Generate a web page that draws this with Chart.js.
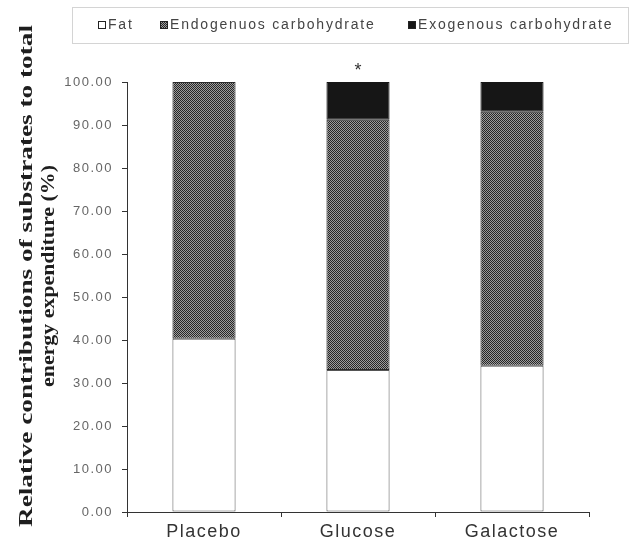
<!DOCTYPE html>
<html>
<head>
<meta charset="utf-8">
<style>
  html, body { margin: 0; padding: 0; background: #fff; }
  #wrap { width: 632px; height: 552px; }
</style>
<script src="https://cdn.jsdelivr.net/npm/chart.js@4.4.1/dist/chart.umd.min.js"></script>
</head>
<body>
<div id="wrap"><canvas id="chart"></canvas></div>
<script>
// substrate contributions (%) per drink
const groups = ['Placebo', 'Glucose', 'Galactose'];
const fat = [40.3, 33.0, 34.0];
const endogenous = [59.7, 58.2, 59.1];
const exogenous = [0, 8.8, 6.9];
const sigMarks = ['', '*', ''];
const seriesNames = ['Fat', 'Endogenuos carbohydrate', 'Exogenous carbohydrate'];
const yTitle = ['Relative contributions of substrates to total', 'energy expenditure (%)'];

const canvas = document.getElementById('chart');
const ctx = canvas.getContext('2d');

// fine dotted fill for the endogenous segment
function dotPattern() {
    const p = document.createElement('canvas');
    p.width = 2; p.height = 2;
    const g = p.getContext('2d');
    g.fillStyle = '#9c9c9c';
    g.fillRect(0, 0, 2, 2);
    g.fillStyle = '#262626';
    g.fillRect(0, 0, 1, 1);
    g.fillRect(1, 1, 1, 1);
    return ctx.createPattern(p, 'repeat');
}
const dots = dotPattern();

const fills = ['#ffffff', dots, '#161616'];
const edges = ['#555555', '#2a2a2a', '#161616'];

// wider letter spacing for axis tick text
const textSpacing = {
    id: 'textSpacing',
    beforeDraw(chart) { chart.ctx.letterSpacing = '1.5px'; }
};

const extras = {
    id: 'extras',
    afterDraw(chart) {
        const c = chart.ctx;
        const xs = chart.scales.x, ys = chart.scales.y;

        // significance mark above bars
        c.save();
        c.fillStyle = '#333';
        c.font = '18px Arial';
        c.letterSpacing = '0px';
        c.textAlign = 'center';
        c.textBaseline = 'middle';
        groups.forEach((g, i) => {
            if (!sigMarks[i]) return;
            const total = fat[i] + endogenous[i] + exogenous[i];
            c.fillText(sigMarks[i], xs.getPixelForValue(i), ys.getPixelForValue(total) - 11);
        });
        c.restore();

        // legend in a framed box
        c.save();
        c.strokeStyle = '#d4d4d4';
        c.lineWidth = 1;
        c.strokeRect(72.5, 7.5, 556, 36);
        c.font = '14px Arial';
        c.letterSpacing = '1.8px';
        c.textBaseline = 'middle';
        const itemX = [98, 160, 408];
        chart.data.datasets.forEach((ds, i) => {
            c.fillStyle = ds.backgroundColor;
            c.fillRect(itemX[i], 21, 8, 8);
            c.strokeStyle = '#222';
            c.strokeRect(itemX[i] + 0.5, 21.5, 7, 7);
            c.fillStyle = '#444';
            c.fillText(ds.label, itemX[i] + 10, 25.5);
        });
        c.restore();

        // rotated y title, two lines
        c.save();
        c.fillStyle = '#1e1e1e';
        c.font = 'bold 18px "Liberation Serif", "Times New Roman", serif';
        c.letterSpacing = '0px';
        c.textAlign = 'center';
        c.textBaseline = 'middle';
        const lineX = [27, 49];
        const lineLen = [502, 222];
        yTitle.forEach((t, i) => {
            const w = c.measureText(t).width;
            c.save();
            c.translate(lineX[i], 276);
            c.rotate(-Math.PI / 2);
            c.scale(lineLen[i] / w, 1);
            c.fillText(t, 0, 0);
            c.restore();
        });
        c.restore();
    }
};

new Chart(ctx, {
    type: 'bar',
    data: {
        labels: groups,
        datasets: [fat, endogenous, exogenous].map((vals, i) => ({
            label: seriesNames[i],
            data: vals,
            backgroundColor: fills[i],
            borderColor: edges[i],
            borderWidth: 1,
            borderSkipped: false,
            barPercentage: 0.41,
            categoryPercentage: 1.0
        }))
    },
    options: {
        responsive: true,
        maintainAspectRatio: false,
        animation: false,
        layout: { padding: { left: 0, right: 43, top: 82, bottom: 0 } },
        plugins: {
            legend: { display: false },
            tooltip: { enabled: false }
        },
        scales: {
            x: {
                stacked: true,
                afterFit(scale) { scale.height = 40; },
                grid: { offset: true, drawOnChartArea: false, drawTicks: true, tickLength: 5, color: '#333' },
                border: { color: '#333', width: 1 },
                ticks: { color: '#333', font: { family: 'Arial', size: 18 }, padding: 4 }
            },
            y: {
                stacked: true,
                min: 0,
                max: 100,
                afterFit(scale) { scale.width = 127; },
                grid: { drawOnChartArea: false, drawTicks: true, tickLength: 5, color: '#333' },
                border: { color: '#333', width: 1 },
                ticks: {
                    stepSize: 10,
                    color: '#666',
                    padding: 9,
                    font: { family: 'Arial', size: 13 },
                    callback: v => v.toFixed(2)
                }
            }
        }
    },
    plugins: [textSpacing, extras]
});
</script>
</body>
</html>
